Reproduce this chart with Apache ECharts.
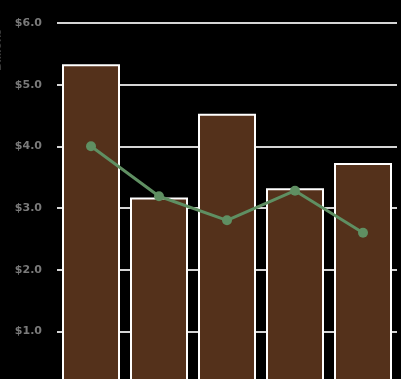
<!DOCTYPE html>
<html>
<head>
<meta charset="utf-8">
<script src="https://cdn.jsdelivr.net/npm/echarts@6/dist/echarts.min.js"></script>
<style>
html,body{margin:0;padding:0;background:#000;}
#c{width:401px;height:379px;}
</style>
</head>
<body>
<div id="c"></div>
<script>
var categories = ['A', 'B', 'C', 'D', 'E'];
var barValues = [5.33, 3.17, 4.53, 3.32, 3.73];
var lineValues = [4.0, 3.19, 2.80, 3.28, 2.60];
var yTickLabels = ['$0.0', '$1.0', '$2.0', '$3.0', '$4.0', '$5.0', '$6.0'];
var axisTitle = 'Billions';

var chart = echarts.init(document.getElementById('c'), null, {renderer: 'canvas'});
chart.setOption({
  backgroundColor: '#000',
  animation: false,
  grid: {left: 57, width: 340, top: 23, height: 370, containLabel: false, outerBoundsMode: 'none'},
  xAxis: {
    type: 'category',
    data: categories,
    axisLine: {show: false},
    axisTick: {show: false},
    axisLabel: {show: false}
  },
  yAxis: {
    type: 'value',
    min: 0,
    max: 6,
    interval: 1,
    axisLine: {show: false},
    axisTick: {show: false},
    splitLine: {lineStyle: {color: '#d4d4d4', width: 2}},
    axisLabel: {
      margin: 15,
      color: '#7a7a7a',
      fontFamily: 'DejaVu Sans',
      fontWeight: 'bold',
      fontSize: 11,
      formatter: function (v) { return yTickLabels[Math.round(v)]; }
    }
  },
  graphic: [{
    type: 'text',
    x: -3,
    y: 50,
    rotation: Math.PI / 2,
    style: {
      text: axisTitle,
      fill: '#3a3a3a',
      font: 'bold 13px Lato',
      align: 'center',
      verticalAlign: 'middle'
    }
  }],
  series: [{
    type: 'bar',
    data: barValues,
    barWidth: 58,
    itemStyle: {color: '#54311b', borderColor: '#ffffff', borderWidth: 2}
  }, {
    type: 'line',
    data: lineValues,
    symbol: 'circle',
    symbolSize: 10,
    lineStyle: {color: '#5f8f62', width: 3},
    itemStyle: {color: '#5f8f62'}
  }]
});
</script>
</body>
</html>
